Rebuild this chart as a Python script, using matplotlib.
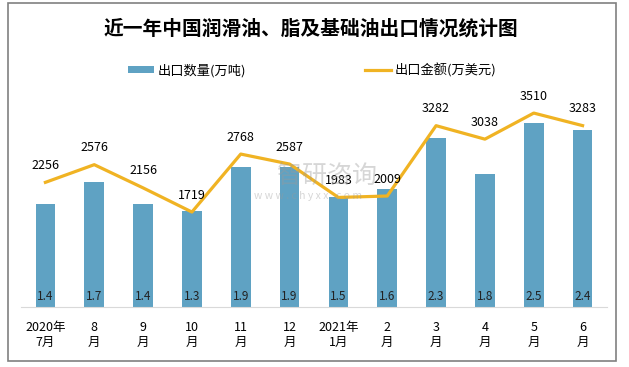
import numpy as np
import matplotlib
matplotlib.use('Agg')
import matplotlib.pyplot as plt
from matplotlib.patches import Rectangle

plt.rcParams['font.family'] = ['Noto Sans CJK SC', 'DejaVu Sans']

# data
months = ['2020年\n7月', '8\n月', '9\n月', '10\n月', '11\n月', '12\n月',
          '2021年\n1月', '2\n月', '3\n月', '4\n月', '5\n月', '6\n月']
volume = [1.4, 1.7, 1.4, 1.3, 1.9, 1.9, 1.5, 1.6, 2.3, 1.8, 2.5, 2.4]      # 万吨
amount = [2256, 2576, 2156, 1719, 2768, 2587, 1983, 2009, 3282, 3038, 3510, 3283]  # 万美元

bar_color = '#5fa2c3'
line_color = '#f0b323'

fig = plt.figure(figsize=(6.29, 3.67), dpi=100)
ax = fig.add_axes([21/629, 1-307/367, (607-21)/629, (307-86)/367])
ax2 = ax.twinx()

x = np.arange(len(months))
bars = ax.bar(x, volume, width=0.4, color=bar_color, label='出口数量(万吨)', zorder=2)
line, = ax2.plot(x, amount, color=line_color, lw=2.3, label='出口金额(万美元)', zorder=3)

ax.set_xlim(-0.5, len(months)-0.5)
ax.set_ylim(0, 3)
ax2.set_ylim(0, 4000)

for a in (ax, ax2):
    for s in ['top', 'right', 'left']:
        a.spines[s].set_visible(False)
    a.set_yticks([])
ax.spines['bottom'].set_color('#d9d9d9')
ax2.spines['bottom'].set_visible(False)

ax.set_xticks(x)
ax.set_xticklabels(months, fontsize=9, linespacing=1.25)
ax.tick_params(axis='x', length=0, pad=10)

# value labels
for xi, v in zip(x, volume):
    ax.annotate(f'{v:.1f}', (xi, 0), xytext=(0, 11), textcoords='offset pixels',
                ha='center', va='center', fontsize=8.5, color='#222222', zorder=4)
for xi, v in zip(x, amount):
    ax2.annotate(str(v), (xi, v), xytext=(0, 17), textcoords='offset pixels',
                 ha='center', va='center', fontsize=9, color='black', zorder=4)

# watermark
fig.text(327/629, 1-176/367, '智研咨询', fontsize=18, color='#9a9a9a', alpha=0.4,
         ha='center', va='center', zorder=1)
fig.text(308/629, 1-196/367, 'w w w . c h y x x . c o m', fontsize=7.5, color='#9a9a9a',
         alpha=0.4, ha='center', va='center', zorder=1)

fig.text(311/629, 1-29/367, '近一年中国润滑油、脂及基础油出口情况统计图',
         fontsize=14.2, fontweight='bold', ha='center', va='center')

fig.legend([bars, line], ['出口数量(万吨)', '出口金额(万美元)'], loc='center',
           bbox_to_anchor=(312/629, 1-70/367), ncol=2, frameon=False, fontsize=9.5,
           handlelength=2.0, handleheight=0.5, columnspacing=9, handletextpad=0.25)

fig.patches.append(Rectangle((8/629, 1-361/367), 608/629, 358/367, transform=fig.transFigure,
                             fill=False, edgecolor='#808080', lw=1.2))

fig.savefig('out.png', dpi=100)
